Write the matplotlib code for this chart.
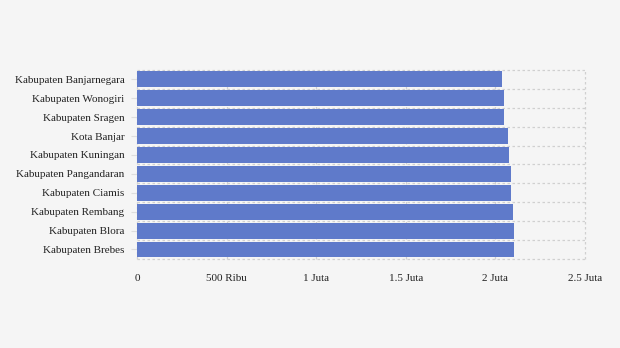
import matplotlib.pyplot as plt
import numpy as np

# Data (top to bottom)
regions = ['Kabupaten Banjarnegara', 'Kabupaten Wonogiri', 'Kabupaten Sragen',
           'Kota Banjar', 'Kabupaten Kuningan', 'Kabupaten Pangandaran',
           'Kabupaten Ciamis', 'Kabupaten Rembang', 'Kabupaten Blora',
           'Kabupaten Brebes']
values = [2037000, 2048000, 2048000, 2070000, 2076000,
          2087000, 2087000, 2098000, 2104000, 2104000]
tick_vals = [0, 500000, 1000000, 1500000, 2000000, 2500000]
tick_labels = ['0', '500 Ribu', '1 Juta', '1.5 Juta', '2 Juta', '2.5 Juta']

plt.rcParams['font.family'] = ['Liberation Serif', 'DejaVu Serif']

fig = plt.figure(figsize=(6.2, 3.48), dpi=100, facecolor='#f5f5f5')
ax = fig.add_axes([0.221, 0.256, 0.7225, 0.543])
ax.set_facecolor('#f5f5f5')

y = np.arange(len(regions))
ax.barh(y, values, height=0.84, color='#5f7aca', zorder=2)

ax.set_xlim(0, 2500000)
ax.set_ylim(len(regions) - 0.5, -0.5)

ax.set_xticks(tick_vals)
ax.set_xticklabels(tick_labels, fontsize=8)
ax.set_yticks(y)
ax.set_yticklabels(regions, fontsize=8)

# grid: vertical lines at ticks, horizontal lines at band boundaries
for xv in tick_vals:
    ax.axvline(xv, color='#d0d0d0', lw=0.9, ls=(0, (2, 2)), zorder=1, clip_on=False)
for b in np.arange(-0.5, len(regions), 1.0):
    ax.axhline(b, color='#d0d0d0', lw=0.9, ls=(0, (2, 2)), zorder=1, clip_on=False)

for s in ax.spines.values():
    s.set_visible(False)
ax.tick_params(axis='x', length=0, pad=11, colors='#222222')
ax.tick_params(axis='y', length=4, pad=5, color='#dddddd', labelcolor='#222222')

fig.savefig('out.png', dpi=100, facecolor=fig.get_facecolor())
